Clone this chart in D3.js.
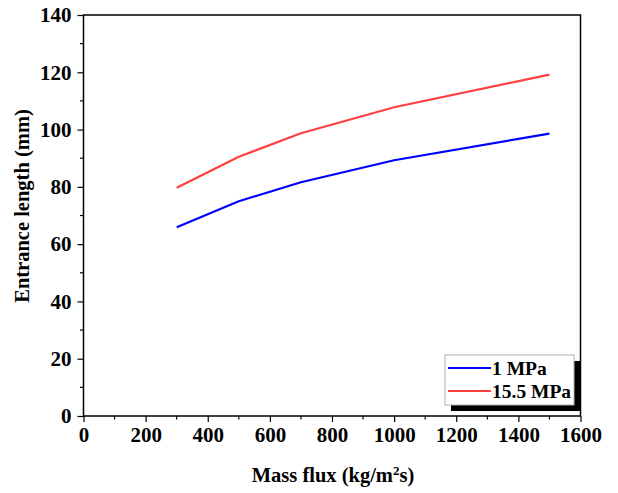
<!DOCTYPE html>
<html>
<head>
<meta charset="utf-8">
<script src="https://cdn.jsdelivr.net/npm/d3@7/dist/d3.min.js"></script>
<style>
  html, body { margin: 0; padding: 0; background: #fff; }
  svg { display: block; font-family: "Liberation Serif", "Times New Roman", serif; font-weight: bold; }
</style>
</head>
<body>
<svg id="chart" width="618" height="493"></svg>
<script>
// Entrance length vs mass flux at two pressures
const massFlux = [300, 500, 700, 1000, 1500];
const len1MPa = [65.9, 75.0, 81.6, 89.3, 98.6];
const len155MPa = [79.7, 90.5, 98.7, 107.8, 119.2];
const seriesNames = ["1 MPa", "15.5 MPa"];
const seriesColors = ["#0000ff", "#ff4040"];
const xTicks = [0, 200, 400, 600, 800, 1000, 1200, 1400, 1600];
const yTicks = [0, 20, 40, 60, 80, 100, 120, 140];

const svg = d3.select("#chart");
const m = { left: 83.5, top: 15, right: 580.5, bottom: 416 };

const x = d3.scaleLinear().domain([0, 1600]).range([m.left, m.right]);
const y = d3.scaleLinear().domain([0, 140]).range([m.bottom, m.top]);

// frame
svg.append("rect")
  .attr("x", m.left).attr("y", m.top)
  .attr("width", m.right - m.left).attr("height", m.bottom - m.top)
  .attr("fill", "none").attr("stroke", "#000").attr("stroke-width", 1.5);

// minor ticks
const xMinor = d3.range(100, 1600, 200);
const yMinor = d3.range(10, 140, 20);
svg.append("g").selectAll("line").data(xMinor).join("line")
  .attr("x1", d => x(d)).attr("x2", d => x(d))
  .attr("y1", m.bottom).attr("y2", m.bottom + 3.5)
  .attr("stroke", "#000").attr("stroke-width", 1.2);
svg.append("g").selectAll("line").data(yMinor).join("line")
  .attr("y1", d => y(d)).attr("y2", d => y(d))
  .attr("x1", m.left).attr("x2", m.left - 3.5)
  .attr("stroke", "#000").attr("stroke-width", 1.2);

// axes
const xAxis = svg.append("g")
  .attr("transform", `translate(0,${m.bottom})`)
  .call(d3.axisBottom(x).tickValues(xTicks).tickSize(6).tickPadding(5).tickFormat(d3.format("d")));
const yAxis = svg.append("g")
  .attr("transform", `translate(${m.left},0)`)
  .call(d3.axisLeft(y).tickValues(yTicks).tickSize(6).tickPadding(6).tickFormat(d3.format("d")));

[xAxis, yAxis].forEach(g => {
  g.select(".domain").remove();
  g.selectAll(".tick line").attr("stroke", "#000").attr("stroke-width", 1.2);
  g.selectAll(".tick text")
    .attr("fill", "#000")
    .style("font-family", '"Liberation Serif", serif')
    .style("font-weight", "bold")
    .style("font-size", "21px");
});

// series lines
const line = d3.line().x((d, i) => x(massFlux[i])).y(d => y(d));
[len1MPa, len155MPa].forEach((vals, k) => {
  svg.append("path")
    .datum(vals)
    .attr("d", line)
    .attr("fill", "none")
    .attr("stroke", seriesColors[k])
    .attr("stroke-width", 2.2)
    .attr("stroke-linejoin", "round");
});

// axis titles
svg.append("text")
  .attr("x", 333).attr("y", 482)
  .attr("text-anchor", "middle")
  .style("font-size", "20.5px")
  .html('Mass flux (kg/m<tspan baseline-shift="super" font-size="13px">2</tspan>s)');

svg.append("text")
  .attr("transform", "translate(29,206) rotate(-90)")
  .attr("text-anchor", "middle")
  .style("font-size", "20.5px")
  .text("Entrance length (mm)");

// legend with drop shadow
const lg = { x: 445, y: 355, w: 129, h: 50 };
svg.append("rect")
  .attr("x", lg.x + 6).attr("y", lg.y + 6)
  .attr("width", lg.w).attr("height", lg.h)
  .attr("fill", "#000");
svg.append("rect")
  .attr("x", lg.x).attr("y", lg.y)
  .attr("width", lg.w).attr("height", lg.h)
  .attr("fill", "#fff").attr("stroke", "#b0b0b0").attr("stroke-width", 1);

seriesNames.forEach((name, k) => {
  const ly = lg.y + 13 + k * 23;
  svg.append("line")
    .attr("x1", lg.x + 3).attr("x2", lg.x + 46)
    .attr("y1", ly).attr("y2", ly)
    .attr("stroke", seriesColors[k]).attr("stroke-width", 2);
  svg.append("text")
    .attr("x", lg.x + 47).attr("y", ly + 6.5)
    .style("font-size", "19.5px")
    .text(name);
});
</script>
</body>
</html>
